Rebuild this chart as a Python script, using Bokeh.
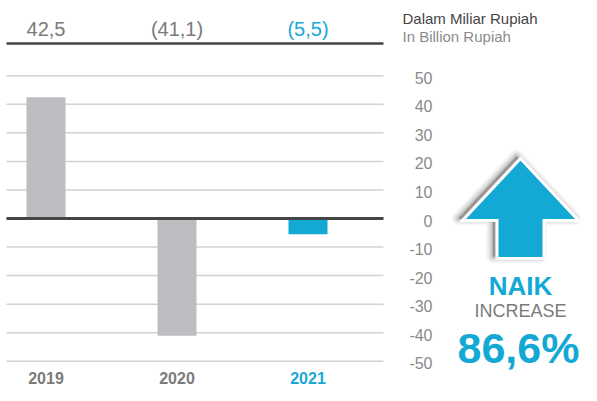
from bokeh.plotting import figure
from bokeh.models import Range1d
from bokeh.core.properties import value
from bokeh.embed import file_html
from bokeh.resources import INLINE

# ---- data ----
years = ["2019", "2020", "2021"]
values = [42.5, -41.1, -5.5]
value_labels = ["42,5", "(41,1)", "(5,5)"]
y_ticks = [50, 40, 30, 20, 10, 0, -10, -20, -30, -40, -50]
y_tick_labels = [str(t) for t in y_ticks]
unit_id = "Dalam Miliar Rupiah"
unit_en = "In Billion Rupiah"
change_id = "NAIK"
change_en = "INCREASE"
change_pct = "86,6%"

GRAY_BAR = "#bcbdc1"
BLUE = "#14a9d5"
GRAY_TXT = "#7b7b7b"
bar_colors = [GRAY_BAR, GRAY_BAR, BLUE]
label_colors = [GRAY_TXT, GRAY_TXT, "#1aa8d8"]

W, H = 581, 385
FONT = value("Liberation Sans")

# value scale: canvas_y = 218 - 2.855*v ; category scale: canvas_x = 45.5 + 131*i
ppu = 2.855
zero_px = 218
x0_px, step_px = 45.5, 131.0

p = figure(width=W, height=H, output_backend="svg", toolbar_location=None,
           x_axis_type=None, y_axis_type=None,
           x_range=Range1d(-x0_px / step_px, (W - x0_px) / step_px),
           y_range=Range1d((zero_px - H) / ppu, zero_px / ppu),
           min_border=0, outline_line_color=None)
p.extra_x_ranges = {"px": Range1d(0, W)}
p.extra_y_ranges = {"py": Range1d(H, 0)}
p.grid.visible = False
p.background_fill_color = "white"
p.border_fill_color = "white"

xs = list(range(len(years)))
grid_left_px, grid_right_px = 6, 383

# gridlines
p.segment(x0=[grid_left_px] * len(y_ticks), x1=[grid_right_px] * len(y_ticks),
          y0=y_ticks, y1=y_ticks, x_range_name="px",
          line_color="#d2d2d2", line_width=1.5)

# bars
p.vbar(x=xs, top=values, bottom=0, width=39 / step_px,
       fill_color=bar_colors, line_color=None)

# zero line
p.segment(x0=[grid_left_px], x1=[grid_right_px], y0=[0], y1=[0],
          x_range_name="px", line_color="#454545", line_width=3)

# header line
p.segment(x0=[grid_left_px], x1=[grid_right_px], y0=[43], y1=[43],
          x_range_name="px", y_range_name="py",
          line_color="#454545", line_width=2.5)

MID = "middle"

# header values
p.text(x=xs, y=[28] * 3, text=value_labels, y_range_name="py",
       text_color=label_colors, text_font=FONT, text_font_size="20px",
       text_align="center", text_baseline=MID)

# year labels
p.text(x=xs, y=[377] * 3, text=years, y_range_name="py",
       text_color=label_colors, text_font=FONT, text_font_size="16px",
       text_font_style="bold", text_align="center", text_baseline=MID)

# right tick labels
p.text(x=[432] * len(y_ticks), y=y_ticks, text=y_tick_labels, x_range_name="px",
       text_color="#8a8a8a", text_font=FONT, text_font_size="16px",
       text_align="right", text_baseline=MID, y_offset=2)

# unit texts
p.text(x=[402], y=[18], text=[unit_id], x_range_name="px", y_range_name="py",
       text_color="#454545", text_font=FONT, text_font_size="15px",
       text_align="left", text_baseline=MID)
p.text(x=[402], y=[36.2], text=[unit_en], x_range_name="px", y_range_name="py",
       text_color="#8c8c8c", text_font=FONT, text_font_size="15px",
       text_align="left", text_baseline=MID)

# arrow
cx, tip_y, base_y, bot_y, hw, sw = 520, 158, 220, 258, 58, 23.5
ax = [cx, cx + hw, cx + sw, cx + sw, cx - sw, cx - sw, cx - hw]
ay = [tip_y, base_y, base_y, bot_y, bot_y, base_y, base_y]
for lw, a in [(14, 0.03), (11, 0.04), (8, 0.06), (5, 0.08), (2, 0.1)]:
    p.patch(x=[v - 4 for v in ax], y=[v - 2 for v in ay],
            x_range_name="px", y_range_name="py",
            fill_color="black", fill_alpha=0.05, line_color="black",
            line_alpha=a, line_width=lw, line_join="round")
p.patch(x=ax, y=ay, x_range_name="px", y_range_name="py",
        fill_color=BLUE, line_color="white", line_width=3, line_join="miter")

# change texts
p.text(x=[520], y=[285.5], text=[change_id], x_range_name="px", y_range_name="py",
       text_color=BLUE, text_font=FONT, text_font_size="26px", text_font_style="bold",
       text_align="center", text_baseline=MID)
p.text(x=[520], y=[310], text=[change_en], x_range_name="px", y_range_name="py",
       text_color=GRAY_TXT, text_font=FONT, text_font_size="18px",
       text_align="center", text_baseline=MID)
p.text(x=[518], y=[347], text=[change_pct], x_range_name="px", y_range_name="py",
       text_color=BLUE, text_font=FONT, text_font_size="43px", text_font_style="bold",
       text_align="center", text_baseline=MID)

open("out.html", "w").write(file_html(p, INLINE))
